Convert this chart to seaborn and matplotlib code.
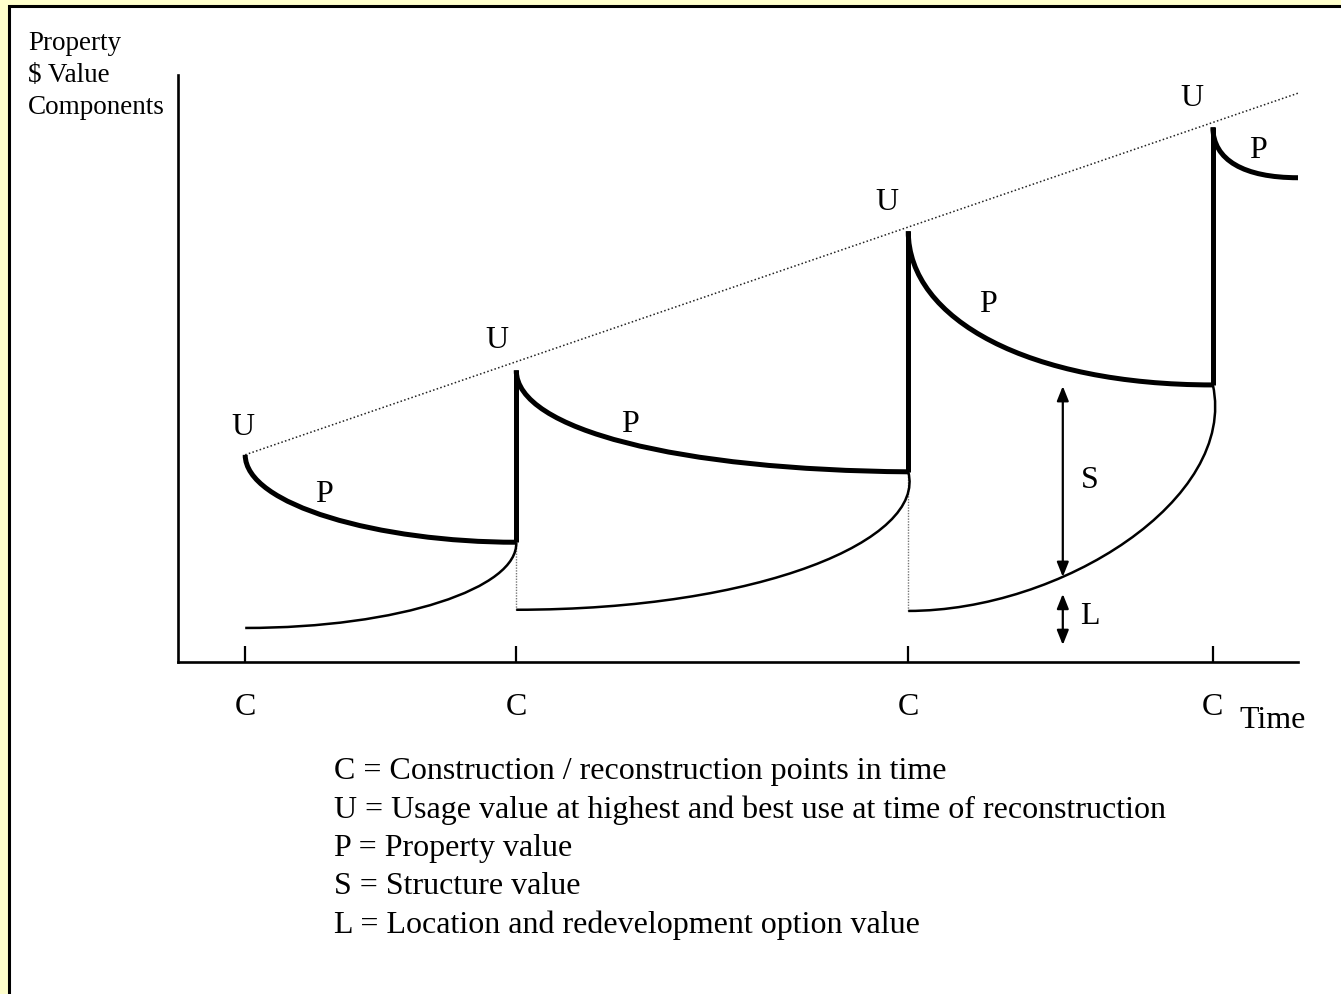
import matplotlib
matplotlib.use("Agg")
import matplotlib.pyplot as plt
import seaborn as sns
from matplotlib.path import Path
from matplotlib.patches import PathPatch, Rectangle

# Schematic: property value components over successive reconstruction cycles
# time runs 0..50 on the x axis, value 0..100 on the y axis

c_times = [3.0, 15.1, 32.6, 46.2]          # construction / reconstruction points
time_end = 50.0
u_values = [35.3, 49.7, 73.4, 91.1]        # usage value at each reconstruction
trend_end = 96.9                           # usage trend at the end of the time axis
p_end_values = [20.4, 32.4, 47.2, 82.5]    # property value just before the next rebuild
l_values = [5.8, 8.9, 8.7]                 # location / option value right after each rebuild

# bend handles for the property curves
p_handle1 = [(3.0, 26.7), (15.1, 39.5), (32.6, 58.3), (46.2, 85.5)]
p_handle2 = [(9.0, 20.4), (22.4, 32.7), (38.0, 47.2), (47.6, 82.5)]
# bend handles for the land + structure curves
s_handle1 = [(9.9, 5.8), (26.0, 8.9), (39.4, 8.7)]
s_handle2 = [(15.2, 12.6), (33.4, 20.8), (47.3, 27.6)]

arrow_time = 39.5
s_range = [14.5, 47.0]
l_range = [2.9, 11.6]

legend_lines = [
    "C = Construction / reconstruction points in time",
    "U = Usage value at highest and best use at time of reconstruction",
    "P = Property value",
    "S = Structure value",
    "L = Location and redevelopment option value",
]

W, H = 1341, 994

sns.set_theme(style="white")
plt.rcParams['font.family'] = ['Liberation Serif', 'DejaVu Serif']
plt.rcParams['text.color'] = 'black'

fig = plt.figure(figsize=(W / 100, H / 100), dpi=100, facecolor='#FFFFCC')


def fx(px):
    return px / W


def fy(py):
    return 1 - py / H


# white frame with black border, running off the right and bottom edges
fig.patches.append(Rectangle((fx(8.7), -0.1), 1.2, fy(5.7) + 0.1,
                             transform=fig.transFigure, facecolor='white',
                             edgecolor='black', lw=2.2, zorder=-5))

ax = fig.add_axes([fx(178), fy(662), fx(1298) - fx(178), fy(75) - fy(662)])
ax.set_facecolor('none')
ax.set_zorder(1)
ax.set_xlim(0, time_end)
ax.set_ylim(0, 100)
sns.despine(ax=ax)
for side in ['left', 'bottom']:
    ax.spines[side].set_color('black')
    ax.spines[side].set_linewidth(1.9)
ax.set_yticks([])
ax.set_xticks(c_times)
ax.set_xticklabels(['C'] * len(c_times))
ax.tick_params(axis='x', direction='in', length=11.5, width=1.6, pad=22,
               labelsize=23, colors='black', bottom=True)


def bezier(p0, h1, h2, p3, lw):
    path = Path([p0, h1, h2, p3], [Path.MOVETO, Path.CURVE4, Path.CURVE4, Path.CURVE4])
    ax.add_patch(PathPatch(path, facecolor='none', edgecolor='black', lw=lw,
                           capstyle='butt', clip_on=False, zorder=3))


# usage value trend (dotted)
sns.lineplot(x=[c_times[0], time_end], y=[u_values[0], trend_end], ax=ax,
             color='#222222', lw=1.1, linestyle=(0, (1, 1.5)), clip_on=False)

# property value curves (thick)
for i in range(len(c_times)):
    x_end = c_times[i + 1] if i + 1 < len(c_times) else time_end
    bezier((c_times[i], u_values[i]), p_handle1[i], p_handle2[i],
           (x_end, p_end_values[i]), 3.6)

# jumps at reconstruction
for i in range(1, len(c_times)):
    ax.plot([c_times[i], c_times[i]], [p_end_values[i - 1], u_values[i]],
            color='black', lw=3.6, solid_capstyle='butt', zorder=4)

# land + structure curves (thin) and dotted drops
for i in range(len(l_values)):
    bezier((c_times[i], l_values[i]), s_handle1[i], s_handle2[i],
           (c_times[i + 1], p_end_values[i]), 1.8)
    if i > 0:
        ax.plot([c_times[i], c_times[i]], [l_values[i], p_end_values[i - 1]],
                color='#777777', lw=1.0, linestyle=(0, (1, 1)), zorder=2)

# S and L range arrows
for rng in [s_range, l_range]:
    ax.annotate('', xy=(arrow_time, rng[1]), xytext=(arrow_time, rng[0]),
                arrowprops=dict(arrowstyle='<|-|>,head_length=0.55,head_width=0.22',
                                color='black', lw=1.6,
                                mutation_scale=16, shrinkA=0, shrinkB=0))

txt = dict(fontsize=23, color='black', ha='center', va='center')
for x, y in [(243, 428), (497, 340), (887, 203), (1192, 98)]:
    fig.text(fx(x), fy(y), 'U', **txt)
for x, y in [(324, 495), (630, 425), (988, 304), (1258, 150)]:
    fig.text(fx(x), fy(y), 'P', **txt)
fig.text(fx(1090), fy(480), 'S', **txt)
fig.text(fx(1090), fy(617), 'L', **txt)
fig.text(fx(1273), fy(721), 'Time', **txt)

fig.text(fx(28), fy(43), 'Property', fontsize=19.5, va='center', ha='left')
fig.text(fx(28), fy(75), '$ Value', fontsize=19.5, va='center', ha='left')
fig.text(fx(28), fy(107), 'Components', fontsize=19.5, va='center', ha='left')

for k, line in enumerate(legend_lines):
    fig.text(fx(334), fy(772 + 38.3 * k), line, fontsize=23, va='center', ha='left')

fig.savefig('out.png', dpi=100, facecolor=fig.get_facecolor())
